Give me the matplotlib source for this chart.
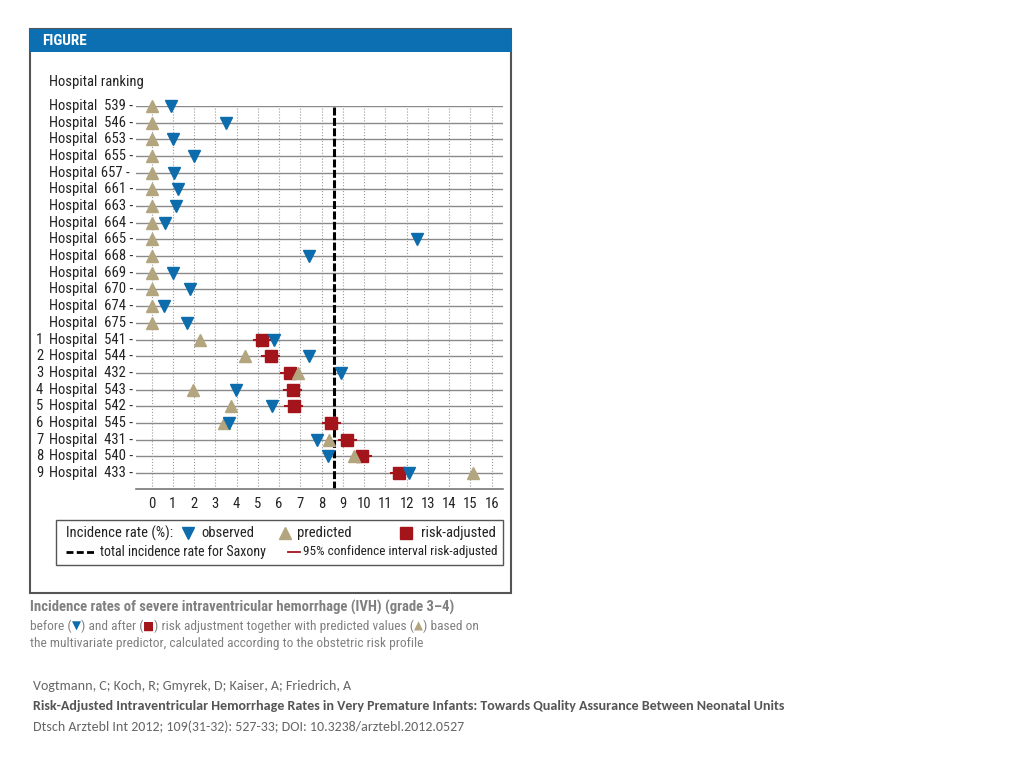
import matplotlib
matplotlib.use('Agg')
import matplotlib.pyplot as plt
from matplotlib.patches import Rectangle
from matplotlib.lines import Line2D

# data
hospital_labels = ['Hospital  539 -', 'Hospital  546 -', 'Hospital  653 -', 'Hospital  655 -',
                   'Hospital 657 -', 'Hospital  661 -', 'Hospital  663 -', 'Hospital  664 -',
                   'Hospital  665 -', 'Hospital  668 -', 'Hospital  669 -', 'Hospital  670 -',
                   'Hospital  674 -', 'Hospital  675 -', 'Hospital  541 -', 'Hospital  544 -',
                   'Hospital  432 -', 'Hospital  543 -', 'Hospital  542 -', 'Hospital  545 -',
                   'Hospital  431 -', 'Hospital  540 -', 'Hospital  433 -']
ranks = ['', '', '', '', '', '', '', '', '', '', '', '', '', '',
         '1', '2', '3', '4', '5', '6', '7', '8', '9']
observed = [0.9, 3.5, 1.0, 2.0, 1.05, 1.25, 1.15, 0.65, 12.5, 7.4, 1.0, 1.8, 0.6, 1.65,
            5.75, 7.4, 8.9, 3.95, 5.65, 3.65, 7.8, 8.3, 12.1]
predicted = [0.0, 0.0, 0.0, 0.0, 0.0, 0.0, 0.0, 0.0, 0.0, 0.0, 0.0, 0.0, 0.0, 0.0,
             2.3, 4.4, 6.9, 1.95, 3.75, 3.4, 8.35, 9.5, 15.1]
# risk-adjusted only for the ranked hospitals (rows 14..22)
risk_adjusted = [5.2, 5.6, 6.5, 6.65, 6.7, 8.45, 9.2, 9.9, 11.65]
ci_low = [4.8, 5.2, 6.1, 6.25, 6.3, 8.05, 8.8, 9.5, 11.25]
ci_high = [5.6, 6.0, 6.9, 7.05, 7.1, 8.85, 9.6, 10.3, 12.05]
saxony_rate = 8.58
x_ticks = list(range(0, 17))

blue = '#0d6cab'
tan = '#b3a57e'
red = '#a3141b'
gray_txt = '#808080'
dark = '#222222'
narrow = ['Roboto Condensed', 'Liberation Sans', 'DejaVu Sans']
calibri = ['Carlito', 'Liberation Sans', 'DejaVu Sans']

W, H = 1024, 768
fig = plt.figure(figsize=(W / 100, H / 100), dpi=100)


def fx(x):
    return x / W


def fy(y):
    return 1 - y / H


# outer frame and blue header
fig.patches.append(Rectangle((fx(30), fy(593)), fx(481), 564 / H, transform=fig.transFigure,
                             fill=False, edgecolor='#555555', linewidth=1.5))
fig.patches.append(Rectangle((fx(30), fy(52)), fx(481), 23 / H, transform=fig.transFigure,
                             facecolor='#0b6fb1', edgecolor='none'))
fig.text(fx(42), fy(41), 'FIGURE', color='white', fontsize=11, fontweight='heavy',
         family=narrow, va='center')
fig.text(fx(49), fy(82), 'Hospital ranking', fontsize=10.5, family=narrow, va='center', color=dark)

# main axes
ax = fig.add_axes([fx(136), fy(489), (503 - 136) / W, (489 - 106) / H])
n = len(hospital_labels)
rows = list(range(n))
ax.set_xlim(-0.73, 16.53)
ax.set_ylim(n - 0.04, 0)
for s in ['top', 'right', 'left']:
    ax.spines[s].set_visible(False)
ax.spines['bottom'].set_color('#777777')
ax.spines['bottom'].set_linewidth(1.2)
ax.set_yticks([])
ax.set_xticks(x_ticks)
ax.tick_params(axis='x', length=0, pad=6, labelsize=10.5, labelcolor=dark)
for lab in ax.get_xticklabels():
    lab.set_family(narrow)

for r in rows:
    ax.axhline(r, color='#8a8a8a', linewidth=1.0, zorder=1)
for t in x_ticks:
    ax.axvline(t, color='#9a9a9a', linewidth=0.8, linestyle=':', zorder=1)
ax.axvline(saxony_rate, color='black', linewidth=2.2, linestyle=(0, (2.6, 0.8)), zorder=2)

ranked_rows = rows[14:]
for r, lo, hi in zip(ranked_rows, ci_low, ci_high):
    ax.plot([lo, hi], [r, r], color=red, linewidth=1.5, zorder=3, clip_on=False)
ax.plot(risk_adjusted, ranked_rows, 's', color=red, markersize=9, zorder=4, clip_on=False)
ax.plot(predicted, rows, '^', color=tan, markersize=8, zorder=5, clip_on=False)
ax.plot(observed, rows, 'v', color=blue, markersize=8, zorder=6, clip_on=False)

# row labels
for r, lab, rk in zip(rows, hospital_labels, ranks):
    y = ax.transData.transform((0, r))[1] / H
    fig.text(fx(49), y, lab, fontsize=10.5, family=narrow, va='center', color=dark)
    if rk:
        fig.text(fx(36), y, rk, fontsize=10.5, family=narrow, va='center', color=dark)

# legend box drawn by hand
fig.patches.append(Rectangle((fx(56), fy(565)), fx(447), 45 / H, transform=fig.transFigure,
                             fill=False, edgecolor='#555555', linewidth=1.0))
ly1, ly2 = fy(533), fy(552)
lkw = dict(family=narrow, va='center', color=dark)
fig.text(fx(66), ly1, 'Incidence rate (%):', fontsize=10.5, **lkw)
fig.lines.append(Line2D([fx(188)], [ly1], marker='v', color=blue, markersize=8,
                        transform=fig.transFigure))
fig.text(fx(201), ly1, 'observed', fontsize=10.5, **lkw)
fig.lines.append(Line2D([fx(285)], [ly1], marker='^', color=tan, markersize=8,
                        transform=fig.transFigure))
fig.text(fx(297), ly1, 'predicted', fontsize=10.5, **lkw)
fig.lines.append(Line2D([fx(406)], [ly1], marker='s', color=red, markersize=8,
                        transform=fig.transFigure))
fig.text(fx(421), ly1, 'risk-adjusted', fontsize=10.5, **lkw)
fig.lines.append(Line2D([fx(66), fx(95)], [ly2, ly2], color='black', linewidth=2,
                        linestyle=(0, (2.5, 1.2)), transform=fig.transFigure))
fig.text(fx(100), ly2, 'total incidence rate for Saxony', fontsize=10, **lkw)
fig.lines.append(Line2D([fx(288), fx(300)], [ly2, ly2], color=red, linewidth=1.3,
                        transform=fig.transFigure))
fig.text(fx(303), ly2, '95% confidence interval risk-adjusted', fontsize=9.5, **lkw)

# caption with coloured symbols
renderer = fig.canvas.get_renderer()


def text_runs(x, y, runs, **kw):
    for s, c, size in runs:
        t = fig.text(fx(x), fy(y), s, color=c, va='center', fontsize=size, **kw)
        x += t.get_window_extent(renderer).width


fig.text(fx(30), fy(607), 'Incidence rates of severe intraventricular hemorrhage (IVH) (grade 3\u20134)',
         fontsize=10.6, fontweight='bold', family=narrow, color=gray_txt, va='center')
text_runs(30, 626, [('before (', gray_txt, 9.6), ('\u25bc', blue, 8.5), (') and after (', gray_txt, 9.6),
                    ('\u25a0', red, 8.5),
                    (') risk adjustment together with predicted values (', gray_txt, 9.6),
                    ('\u25b2', tan, 8.5), (') based on', gray_txt, 9.6)],
          family=['Roboto Condensed', 'DejaVu Sans'])
fig.text(fx(30), fy(643), 'the multivariate predictor, calculated according to the obstetric risk profile',
         fontsize=9.6, family=narrow, color=gray_txt, va='center')

# citation
fig.text(fx(33), fy(686), 'Vogtmann, C; Koch, R; Gmyrek, D; Kaiser, A; Friedrich, A',
         fontsize=10.1, family=calibri, color='#666666', va='center')
fig.text(fx(33), fy(706), 'Risk-Adjusted Intraventricular Hemorrhage Rates in Very Premature Infants: '
         'Towards Quality Assurance Between Neonatal Units',
         fontsize=10.1, family=calibri, fontweight='bold', color='#555555', va='center')
fig.text(fx(33), fy(727), 'Dtsch Arztebl Int 2012; 109(31-32): 527-33; DOI: 10.3238/arztebl.2012.0527',
         fontsize=10.1, family=calibri, color='#666666', va='center')

fig.savefig('out.png', dpi=100, facecolor='white')
